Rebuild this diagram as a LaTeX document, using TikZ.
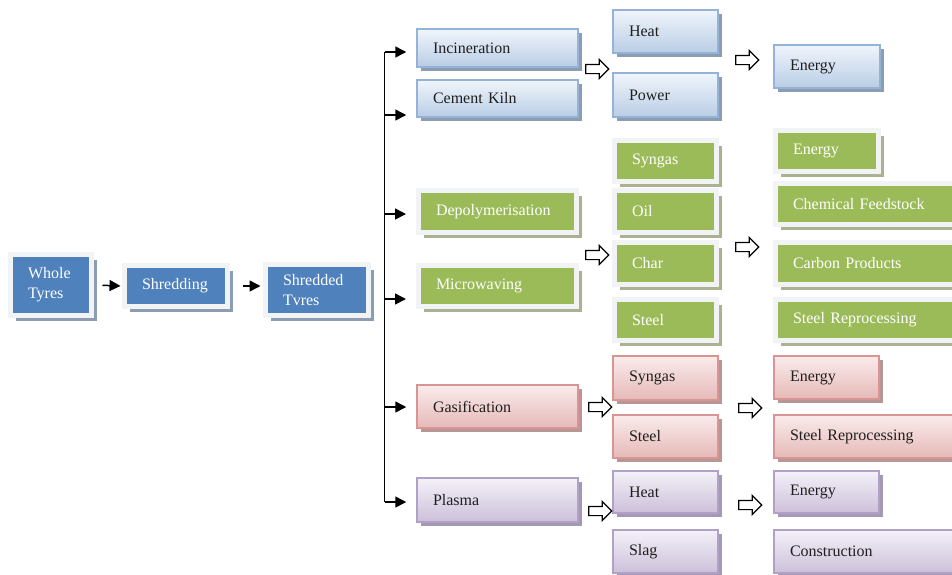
\documentclass[tikz,border=0pt]{standalone}
\usepackage{fontspec}
\setmainfont{Liberation Serif}
\usetikzlibrary{arrows.meta, calc, shapes.arrows, shadows}
\definecolor{tyreblue}{RGB}{79, 129, 189}
\definecolor{tyregreen}{RGB}{155, 187, 89}
\definecolor{framegray}{RGB}{241, 243, 245}
\definecolor{blueshadow}{RGB}{140, 156, 178}
\definecolor{greenshadow}{RGB}{170, 178, 146}
\definecolor{blueline}{RGB}{149, 179, 215}
\definecolor{bluetop}{RGB}{240, 245, 251}
\definecolor{bluebottom}{RGB}{185, 205, 229}
\definecolor{redline}{RGB}{217, 149, 148}
\definecolor{redtop}{RGB}{250, 236, 236}
\definecolor{redbottom}{RGB}{229, 185, 183}
\definecolor{redshadow}{RGB}{185, 150, 150}
\definecolor{purpleline}{RGB}{178, 161, 199}
\definecolor{purpletop}{RGB}{244, 241, 248}
\definecolor{purplebottom}{RGB}{204, 192, 218}
\definecolor{purpleshadow}{RGB}{165, 152, 181}

\begin{document}
\begin{tikzpicture}[x=0.5pt, y=-0.5pt,
  every node/.style={font=\fontsize{8}{10}\selectfont},
  flatbox/.style 2 args={fill=#1, draw=framegray, line width=2.5pt, text=white, align=left,
    inner xsep=8.75pt, drop shadow={shadow xshift=2.75pt, shadow yshift=-2.75pt, fill=#2, opacity=1}},
  fadebox/.style n args={4}{top color=#2, bottom color=#3, draw=#1, line width=0.75pt, text=black!88,
    align=left, inner xsep=8pt, drop shadow={shadow xshift=2pt, shadow yshift=-2pt, fill=#4, opacity=1}},
  bluebox/.style={flatbox={tyreblue}{blueshadow}},
  greenbox/.style={flatbox={tyregreen}{greenshadow}},
  paleblue/.style={fadebox={blueline}{bluetop}{bluebottom}{blueshadow}},
  palered/.style={fadebox={redline}{redtop}{redbottom}{redshadow}},
  palepurple/.style={fadebox={purpleline}{purpletop}{purplebottom}{purpleshadow}},
  feed/.style={-{Triangle[length=5.5pt, width=5.5pt]}, line width=0.75pt},
  yields/.style={single arrow, draw, fill=white, line width=0.6pt, inner xsep=0pt, inner ysep=2pt,
    minimum width=0pt, minimum height=11.5pt, single arrow head extend=2.5pt}]
\useasboundingbox (0,0) rectangle (952,574);
% Feedstock
\node[bluebox, text width=23pt, minimum height=30.5pt] (whole) at (51,285) {Whole\\Tyres};
\node[bluebox, text width=34pt, minimum height=20.5pt] (shred) at (176,286) {Shredding};
\node[bluebox, text width=34pt, minimum height=25.5pt] (shredded) at (317,290) {Shredded\\Tvres};
\draw[feed, shorten <=4.25pt, shorten >=0.75pt] (whole.east) -- (shred.west);
\draw[feed, shorten <=6.25pt, shorten >=1.25pt] (shred.east) -- (shred.east -| shredded.west);
% Processes
\node[paleblue, text width=64.5pt, minimum height=19pt] (incin) at (497.5,48) {Incineration};
\node[paleblue, text width=64.5pt, minimum height=18.5pt] (cement) at (497.5,98.5) {Cement Kiln};
\node[greenbox, text width=61.5pt, minimum height=21pt] (depoly) at (497.5,211.5) {Depolymerisation};
\node[greenbox, text width=61.5pt, minimum height=20.5pt] (micro) at (497.5,286) {Microwaving};
\node[palered, text width=64.5pt, minimum height=21.5pt] (gasif) at (497.5,406.5) {Gasification};
\node[palepurple, text width=64.5pt, minimum height=22pt] (plasma) at (497.5,500) {Plasma};
% Bus from the shredded tyres
\coordinate (bus) at (384.5,0);
\foreach \n/\dy in {incin/4, cement/16.5, depoly/2.5, micro/13, gasif/0.5, plasma/2} {
  \coordinate (\n-in) at ($(\n.west)+(0,\dy)$);
  \draw[feed, shorten >=5pt] (bus |- \n-in) -- (\n-in);
}
\draw[line width=0.75pt] (bus |- incin-in) -- (bus |- plasma-in);
% Products
\node[paleblue, text width=36.5pt, minimum height=21.5pt] (heat) at (665.5,31.5) {Heat};
\node[paleblue, text width=36.5pt, minimum height=22pt] (power) at (665.5,95) {Power};
\node[greenbox, text width=33.5pt, minimum height=20.5pt] (syngas) at (665.5,161) {Syngas};
\node[greenbox, text width=33.5pt, minimum height=21pt] (oil) at (665.5,211.5) {Oil};
\node[greenbox, text width=33.5pt, minimum height=21pt] (char) at (665.5,263.5) {Char};
\node[greenbox, text width=33.5pt, minimum height=20.5pt] (steel) at (665.5,320) {Steel};
\node[palered, text width=36.5pt, minimum height=22pt] (gsyngas) at (665.5,378) {Syngas};
\node[palered, text width=36.5pt, minimum height=21.5pt] (gsteel) at (665.5,436.5) {Steel};
\node[palepurple, text width=36.5pt, minimum height=21pt] (pheat) at (665.5,492) {Heat};
\node[palepurple, text width=36.5pt, minimum height=21.5pt] (slag) at (665.5,551.5) {Slag};
% Uses
\node[paleblue, text width=37pt, minimum height=21.5pt] (energy) at (827,66.5) {Energy};
\node[greenbox, text width=34pt, minimum height=20.5pt] (denergy) at (827,151) {Energy};
\node[greenbox, text width=75pt, minimum height=20.5pt] (feedstock) at (868,204) {Chemical Feedstock};
\node[greenbox, text width=75pt, minimum height=21pt] (carbon) at (868,263.5) {Carbon Products};
\node[greenbox, text width=75pt, minimum height=20.5pt] (steelrep) at (868,320) {Steel Reprocessing};
\node[palered, text width=36.5pt, minimum height=21.5pt] (genergy) at (826.5,377.5) {Energy};
\node[palered, text width=78pt, minimum height=21.5pt] (gsteelrep) at (868,436.5) {Steel Reprocessing};
\node[palepurple, text width=36.5pt, minimum height=21pt] (penergy) at (826.5,492) {Energy};
\node[palepurple, text width=78pt, minimum height=21.5pt] (construct) at (868,551.5) {Construction};
% Hollow arrows between the columns
\node[yields] (y1) at (595,69) {};
\node[yields] (y2) at (745,60) {};
\node[yields] (y3) at (595,255) {};
\node[yields] (y4) at (745,247) {};
\node[yields] (y5) at (598,407) {};
\node[yields] (y6) at (748,408) {};
\node[yields] (y7) at (598,511) {};
\node[yields] (y8) at (748,505) {};
\end{tikzpicture}
\end{document}
